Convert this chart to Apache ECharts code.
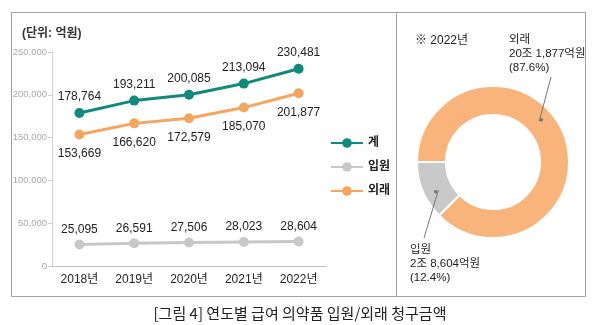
<!DOCTYPE html>
<html>
<head>
<meta charset="utf-8">
<script src="https://cdn.jsdelivr.net/npm/echarts@6/dist/echarts.min.js"></script>
<style>
  html, body { margin: 0; padding: 0; background: #fff; }
  #main { width: 600px; height: 325px; }
</style>
</head>
<body>
<div id="main"></div>
<script>
  // 데이터
  var years = ["2018년", "2019년", "2020년", "2021년", "2022년"];
  var total = [178764, 193211, 200085, 213094, 230481];
  var inpatient = [25095, 26591, 27506, 28023, 28604];
  var outpatient = [153669, 166620, 172579, 185070, 201877];
  var pieNames = ["외래", "입원"];
  var pieValues = [201877, 28604];

  var FONT = "'Liberation Sans', 'Noto Sans CJK KR', sans-serif";
  var TEAL = "#108a7b";
  var GRAY = "#c8c8c8";
  var ORANGE = "#f6a55f";

  var myChart = echarts.init(document.getElementById("main"));

  function fmt(v) {
    return v.toLocaleString("en-US");
  }

  // 도넛 위치, 라벨 위치
  var pieCenter = [493, 162];
  var pieRadius = [47, 76];
  var labelPos = [
    { x: 509, y: 33, end: [551, 77], shift: 19 },
    { x: 410, y: 243, end: [424, 238], shift: 5 }
  ];

  // 중심 기준으로 점 회전 (화면 기준 반시계 방향, 도)
  function rotate(pt, deg, scale) {
    var a = deg * Math.PI / 180;
    var dx = pt[0] - pieCenter[0], dy = pt[1] - pieCenter[1];
    var nx = dx * Math.cos(a) + dy * Math.sin(a);
    var ny = -dx * Math.sin(a) + dy * Math.cos(a);
    return [pieCenter[0] + nx * scale, pieCenter[1] + ny * scale];
  }

  function pieData() {
    return pieNames.map(function (n, i) {
      return { name: n, value: pieValues[i] };
    });
  }

  var option = {
    animation: false,
    textStyle: { fontFamily: FONT },
    title: [
      {
        text: "(단위: 억원)",
        left: 17, top: 23,
        textStyle: { fontSize: 12, fontWeight: "bold", color: "#333", fontFamily: FONT }
      },
      {
        text: "※ 2022년",
        left: 410, top: 30,
        textStyle: { fontSize: 12, fontWeight: "normal", color: "#222", fontFamily: FONT }
      },
      {
        text: "[그림 4] 연도별 급여 의약품 입원/외래 청구금액",
        left: "center", top: 301,
        textStyle: { fontSize: 15, fontWeight: "normal", color: "#222", fontFamily: "'Noto Sans CJK KR', sans-serif" }
      }
    ],
    graphic: [
      {
        type: "rect",
        shape: { x: 11.5, y: 12.5, width: 574, height: 284 },
        style: { fill: "none", stroke: "#a0a0a0", lineWidth: 1 },
        silent: true
      },
      {
        type: "line",
        shape: { x1: 396.5, y1: 12.5, x2: 396.5, y2: 296.5 },
        style: { stroke: "#a0a0a0", lineWidth: 1 },
        silent: true
      }
    ],
    legend: {
      orient: "vertical",
      left: 325, top: 132,
      itemWidth: 32, itemHeight: 12, itemGap: 12,
      data: ["계", "입원", "외래"],
      textStyle: { fontSize: 12, fontWeight: "bold", color: "#222", fontFamily: FONT }
    },
    grid: { left: 52, right: 274, top: 52, bottom: 59 },
    xAxis: {
      type: "category",
      data: years,
      axisLine: { lineStyle: { color: "#c0c0c0" } },
      axisTick: { show: false },
      axisLabel: { color: "#222", fontSize: 12, margin: 8, fontFamily: FONT }
    },
    yAxis: {
      type: "value",
      min: 0, max: 250000, interval: 50000,
      axisLine: { show: true, lineStyle: { color: "#d0d0d0" } },
      axisTick: { show: true, length: 4, lineStyle: { color: "#d0d0d0" } },
      splitLine: { show: false },
      axisLabel: {
        color: "#aaa", fontSize: 9.5, margin: 5,
        formatter: function (v) { return fmt(v); }
      }
    },
    series: [
      {
        name: "계", type: "line", data: total,
        symbol: "circle", symbolSize: 10,
        lineStyle: { color: TEAL, width: 3 },
        itemStyle: { color: TEAL },
        label: {
          show: true, position: "top", distance: 5,
          fontSize: 12, color: "#222",
          formatter: function (p) { return fmt(p.value); }
        }
      },
      {
        name: "입원", type: "line", data: inpatient,
        symbol: "circle", symbolSize: 10,
        lineStyle: { color: GRAY, width: 3 },
        itemStyle: { color: GRAY },
        label: {
          show: true, position: "top", distance: 4,
          fontSize: 12, color: "#222",
          formatter: function (p) { return fmt(p.value); }
        }
      },
      {
        name: "외래", type: "line", data: outpatient,
        symbol: "circle", symbolSize: 10,
        lineStyle: { color: ORANGE, width: 3 },
        itemStyle: { color: ORANGE },
        label: {
          show: true, position: "bottom", distance: 8,
          fontSize: 12, color: "#222",
          formatter: function (p) { return fmt(p.value); }
        }
      },
      {
        // 도넛
        type: "pie",
        center: pieCenter,
        radius: pieRadius,
        startAngle: 180,
        silent: true,
        data: pieData(),
        color: ["#f9b47c", "#c9c9c9"],
        itemStyle: { borderColor: "#fff", borderWidth: 2 },
        label: { show: false },
        labelLine: { show: false }
      },
      {
        // 라벨 + 라벨선 (도넛 위에)
        type: "pie",
        center: pieCenter,
        radius: pieRadius,
        startAngle: 180,
        silent: true,
        z: 4,
        data: pieData(),
        itemStyle: { color: "rgba(0,0,0,0)" },
        label: {
          show: true,
          width: 120,
          fontSize: 11.5, lineHeight: 14, color: "#222",
          align: "left",
          formatter: function (p) {
            var v = p.value;
            var jo = Math.floor(v / 10000);
            var eok = v % 10000;
            return p.name + "\n" + jo + "조 " + fmt(eok) + "억원\n(" + p.percent.toFixed(1) + "%)";
          }
        },
        labelLine: { show: true, lineStyle: { color: "#777", width: 1 } },
        labelLayout: function (params) {
          var lp = labelPos[params.dataIndex];
          var p0 = params.labelLinePoints ? params.labelLinePoints[0] : lp.end;
          var k = (pieRadius[0] + pieRadius[1]) / 2 / pieRadius[1];
          var start = rotate(p0, lp.shift, k);
          return {
            x: lp.x, y: lp.y,
            align: "left", verticalAlign: "top",
            labelLinePoints: [start, lp.end, lp.end]
          };
        }
      },
      {
        // 라벨선 시작점의 점
        type: "pie",
        center: pieCenter,
        radius: pieRadius,
        startAngle: 180,
        silent: true,
        z: 5,
        data: pieData(),
        itemStyle: { color: "rgba(0,0,0,0)" },
        label: {
          show: true, position: "inside",
          formatter: "●", fontSize: 8, color: "#777"
        },
        labelLine: { show: false },
        labelLayout: function (params) {
          var r = params.labelRect;
          var c = rotate([r.x + r.width / 2, r.y + r.height / 2], labelPos[params.dataIndex].shift, 1);
          return { x: c[0], y: c[1], align: "center", verticalAlign: "middle" };
        }
      }
    ]
  };

  myChart.setOption(option);
  window.addEventListener("resize", function () {
    myChart.resize();
  });
</script>
</body>
</html>
